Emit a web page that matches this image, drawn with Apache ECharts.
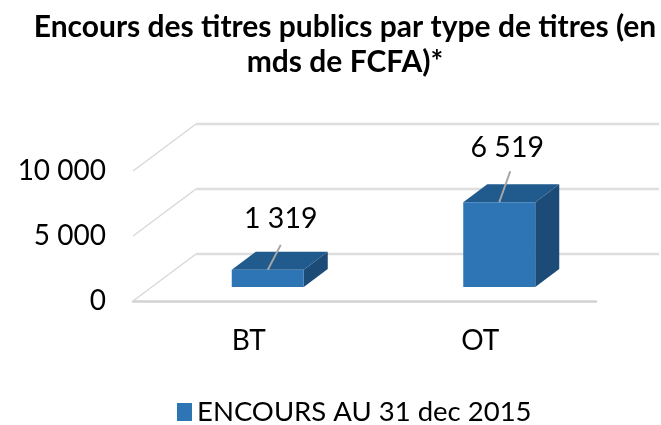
<!DOCTYPE html>
<html>
<head>
<meta charset="utf-8">
<style>
  html, body { margin: 0; padding: 0; background: #fff; }
  #chart { width: 661px; height: 425px; }
</style>
<script src="https://cdn.jsdelivr.net/npm/echarts@6/dist/echarts.min.js"></script>
</head>
<body>
<div id="chart"></div>
<script>
// donnees
const categories = ['BT', 'OT'];
const encours = [1319, 6519];
const yTicks = [0, 5000, 10000];
const seriesName = 'ENCOURS AU 31 dec 2015';
const titleText = 'Encours des titres publics par type de titres (en\nmds de FCFA)*';

const FONT = 'Lato';

// faux 3D : decalage du mur du fond, position et profondeur des barres
const wallDx = 63, wallDy = -47;
const barDx = 19, barDy = -14;
const depthDx = 24, depthDy = -18;
const barRatio = 0.311;
// traits de rappel des etiquettes (dx, dy depuis le haut de la face avant)
const leaders = [[13, -25], [11, -31]];
const labelShift = [[13, -51], [8, -54]];

function fmt(v) {
  return String(v).replace(/\B(?=(\d{3})+$)/g, ' ');
}

var myChart = echarts.init(document.getElementById('chart'));

function renderWall(params, api) {
  var v = api.value(0);
  var cs = params.coordSys;
  var y = api.coord([0, v])[1];
  var x0 = cs.x, x1 = cs.x + cs.width;
  var children = [{
    type: 'line',
    shape: { x1: x0, y1: y, x2: x0 + wallDx, y2: y + wallDy },
    style: { stroke: '#d9d9d9', lineWidth: 1.5 }
  }, {
    type: 'line',
    shape: { x1: x0 + wallDx, y1: y + wallDy, x2: x1 + wallDx, y2: y + wallDy },
    style: { stroke: '#dedede', lineWidth: 2.5 }
  }];
  return { type: 'group', children: children };
}

function renderBar(params, api) {
  var i = api.value(0);
  var val = api.value(1);
  var c0 = api.coord([i, 0]);
  var c1 = api.coord([i, val]);
  var w = api.size([1, 0])[0] * barRatio;
  var xl = c0[0] - w / 2 + barDx, xr = xl + w;
  var yb = c0[1] + barDy, yt = c1[1] + barDy;
  var cx = (xl + xr) / 2;
  var top = [[xl, yt], [xr, yt], [xr + depthDx, yt + depthDy], [xl + depthDx, yt + depthDy]];
  var side = [[xr, yt], [xr + depthDx, yt + depthDy], [xr + depthDx, yb + depthDy], [xr, yb]];
  return {
    type: 'group',
    children: [
      { type: 'polygon', shape: { points: side }, style: { fill: '#1d4b77' } },
      { type: 'polygon', shape: { points: top }, style: { fill: '#215a8c' } },
      { type: 'rect', shape: { x: xl, y: yt, width: w, height: yb - yt }, style: { fill: api.visual('color') } },
      {
        type: 'line',
        shape: { x1: cx, y1: yt, x2: cx + leaders[i][0], y2: yt + leaders[i][1] },
        style: { stroke: '#a6a6a6', lineWidth: 2 }
      },
      {
        type: 'text',
        x: cx + labelShift[i][0],
        y: yt + labelShift[i][1],
        style: {
          text: fmt(val),
          fill: '#000',
          font: '28.5px ' + FONT,
          align: 'center',
          verticalAlign: 'middle'
        }
      }
    ]
  };
}

var option = {
  animation: false,
  color: ['#2e75b6'],
  title: {
    text: titleText,
    left: 340,
    top: 5,
    textAlign: 'center',
    textStyle: {
      fontFamily: FONT,
      fontSize: 30,
      fontWeight: 'bold',
      color: '#000',
      lineHeight: 35
    }
  },
  legend: {
    data: [{ name: seriesName, icon: 'rect' }],
    left: 172,
    top: 393,
    itemWidth: 15,
    itemHeight: 18,
    itemGap: 11,
    textStyle: { fontFamily: FONT, fontSize: 27.5, color: '#000' }
  },
  grid: { left: 133, right: 65, top: 171, bottom: 124 },
  xAxis: {
    type: 'category',
    data: categories,
    axisTick: { show: false },
    axisLine: { lineStyle: { color: '#d2d2d2', width: 2.5 } },
    axisLabel: { color: '#000', fontFamily: FONT, fontSize: 28, margin: 26 }
  },
  yAxis: {
    type: 'value',
    min: 0,
    max: 10000,
    interval: 5000,
    axisLine: { show: false },
    axisTick: { show: false },
    splitLine: { show: false },
    axisLabel: {
      color: '#000',
      fontFamily: FONT,
      fontSize: 28,
      margin: 27,
      formatter: fmt
    }
  },
  series: [{
    type: 'custom',
    name: 'mur',
    renderItem: renderWall,
    data: yTicks.map(function (t) { return [t]; }),
    encode: { y: 0 },
    silent: true,
    z: 1
  }, {
    type: 'custom',
    name: seriesName,
    renderItem: renderBar,
    data: encours.map(function (v, i) { return [i, v]; }),
    encode: { x: 0, y: 1 },
    z: 2
  }]
};

myChart.setOption(option);
</script>
</body>
</html>
